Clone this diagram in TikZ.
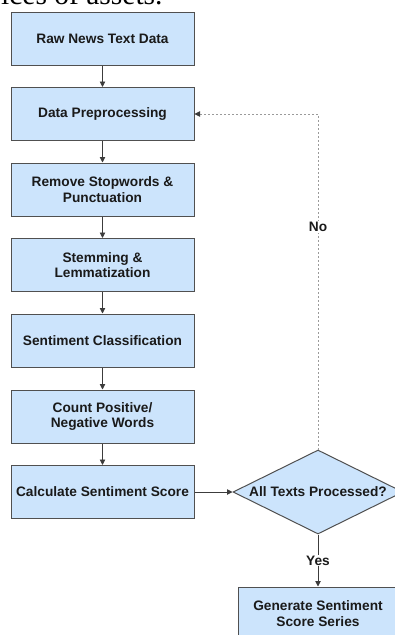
\documentclass[tikz,border=0pt]{standalone}
\usepackage{fontspec}
\setmainfont{Liberation Sans}
\newfontfamily\serifx{Liberation Serif}
\usetikzlibrary{arrows.meta,shapes.geometric}
\definecolor{boxfill}{HTML}{CCE4FC}
\definecolor{boxline}{HTML}{505050}
\definecolor{arr}{HTML}{3C3C3C}
\definecolor{dashc}{HTML}{9A9A9A}
\definecolor{txt}{HTML}{1A1A1A}
\begin{document}
\begin{tikzpicture}[x=1pt,y=-1pt,
  box/.style={draw=boxline, line width=1pt, fill=boxfill, minimum width=183pt,
    minimum height=53pt, inner sep=0pt, align=center, text=txt,
    font=\fontsize{13.7}{15.5}\selectfont\bfseries},
  dia/.style={draw=boxline, line width=1pt, fill=boxfill, shape=diamond,
    minimum width=170pt, minimum height=84pt, inner sep=0pt},
  lbl/.style={text=txt, font=\fontsize{13.7}{15.5}\selectfont\bfseries, inner sep=1pt},
  flow/.style={draw=arr, line width=0.9pt, -{Triangle[width=5.5pt,length=5.5pt]}},
  back/.style={draw=dashc, line width=0.9pt, dash pattern=on 2pt off 2pt,
    -{Triangle[width=5.5pt,length=5.5pt,color=arr]}}
]
\useasboundingbox (0,0) rectangle (395,635);
\clip (0,0) rectangle (395,635);
\node[anchor=base west, inner sep=0pt, font=\serifx\fontsize{29.5}{30}\selectfont] (cap) at (1,4) {ices of assets.};
\node[box] (b1) at (102.5,38.5) {Raw News Text Data};
\node[box] (b2) at (102.5,114) {Data Preprocessing};
\node[box] (b3) at (102.5,189.5) {Remove Stopwords \&\\Punctuation};
\node[box] (b4) at (102.5,265) {Stemming \&\\Lemmatization};
\node[box] (b5) at (102.5,340.5) {Sentiment Classification};
\node[box] (b6) at (102.5,416.5) {Count Positive/\\Negative Words};
\node[box] (b7) at (102.5,492) {Calculate Sentiment Score};
\node[dia] (d) at (318,492) {};
\node[lbl] (dt) at (d.center) {All Texts Processed?};
\node[box, minimum width=160pt] (b8) at (318,613.5) {Generate Sentiment\\Score Series};
\draw[flow] (b1) -- (b2);
\draw[flow] (b2) -- (b3);
\draw[flow] (b3) -- (b4);
\draw[flow] (b4) -- (b5);
\draw[flow] (b5) -- (b6);
\draw[flow] (b6) -- (b7);
\draw[flow] (b7) -- (d.west);
\draw[back] (d.north) |- (b2.east) node[pos=0.332, lbl, fill=white] {No};
\draw[flow] (d.south) -- (b8.north) node[midway, lbl, fill=white] {Yes};
\end{tikzpicture}
\end{document}
